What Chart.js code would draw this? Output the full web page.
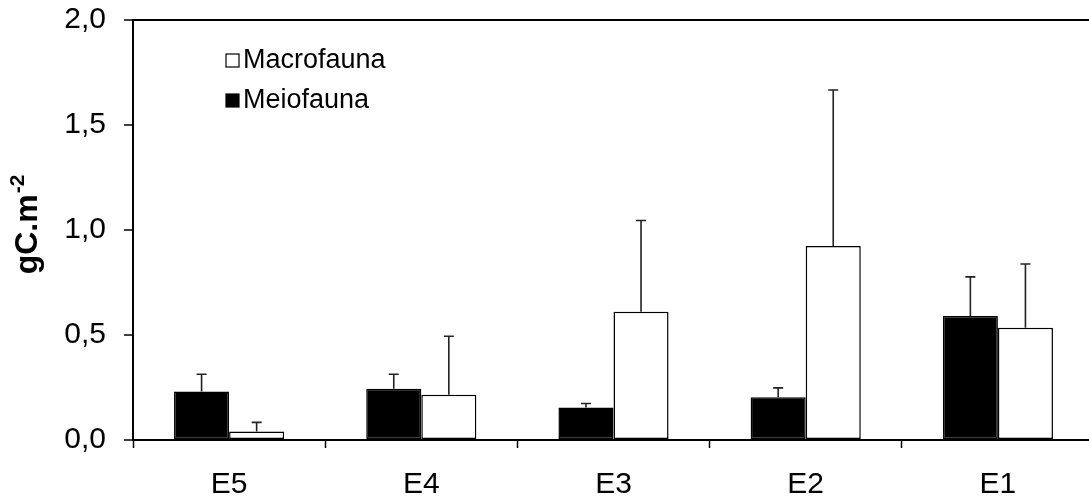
<!DOCTYPE html>
<html>
<head>
<meta charset="utf-8">
<script src="https://cdn.jsdelivr.net/npm/chart.js@4"></script>
<style>
  html, body { margin: 0; padding: 0; background: #fff; overflow: hidden; }
  #wrap { width: 1094px; height: 520px; margin-top: -16px; }
</style>
</head>
<body>
<div id="wrap"><canvas id="chart"></canvas></div>
<script>
const categories = ['E5', 'E4', 'E3', 'E2', 'E1'];
const meioValues = [0.231, 0.244, 0.155, 0.204, 0.590];
const meioErrors = [0.082, 0.069, 0.019, 0.044, 0.187];
const macroValues = [0.041, 0.215, 0.611, 0.924, 0.535];
const macroErrors = [0.043, 0.279, 0.434, 0.743, 0.303];
const yTickLabels = ['0,0', '0,5', '1,0', '1,5', '2,0'];

const FONT = 'Liberation Sans, Arial, Helvetica, sans-serif';

// upward error whiskers with a small cap
const errorBars = {
    id: 'errorBars',
    afterDatasetsDraw(chart) {
        const ctx = chart.ctx;
        const y = chart.scales.y;
        ctx.save();
        ctx.strokeStyle = '#222';
        ctx.lineWidth = 1.6;
        chart.data.datasets.forEach(function(ds, i) {
            const meta = chart.getDatasetMeta(i);
            meta.data.forEach(function(bar, j) {
                const top = y.getPixelForValue(ds.data[j]);
                const end = y.getPixelForValue(ds.data[j] + ds.errors[j]);
                ctx.beginPath();
                ctx.moveTo(bar.x, top);
                ctx.lineTo(bar.x, end);
                ctx.moveTo(bar.x - 5, end);
                ctx.lineTo(bar.x + 5, end);
                ctx.stroke();
            });
        });
        ctx.restore();
    }
};

// legend inside the plot, last dataset listed first
const innerLegend = {
    id: 'innerLegend',
    afterDraw(chart) {
        const ctx = chart.ctx;
        const area = chart.chartArea;
        const items = chart.data.datasets.slice().reverse();
        ctx.save();
        ctx.font = '27px ' + FONT;
        ctx.textBaseline = 'middle';
        items.forEach(function(ds, k) {
            const cy = area.top + 40 + k * 40;
            ctx.fillStyle = ds.backgroundColor;
            ctx.fillRect(226, cy - 6, 13, 13);
            ctx.strokeStyle = '#000';
            ctx.lineWidth = 1.2;
            ctx.strokeRect(226, cy - 6, 13, 13);
            ctx.fillStyle = '#000';
            ctx.fillText(ds.label, 243, cy + 1);
        });
        ctx.restore();
    }
};

// rotated y title with a superscript exponent
const yTitle = {
    id: 'yTitle',
    afterDraw(chart) {
        const ctx = chart.ctx;
        const area = chart.chartArea;
        ctx.save();
        ctx.translate(37, (area.top + area.bottom) / 2 - 5);
        ctx.rotate(-Math.PI / 2);
        ctx.fillStyle = '#000';
        ctx.textBaseline = 'alphabetic';
        ctx.font = 'bold 32px ' + FONT;
        const main = 'gC.m';
        const sup = '-2';
        const w1 = ctx.measureText(main).width;
        ctx.font = 'bold 21px ' + FONT;
        const w2 = ctx.measureText(sup).width;
        const x0 = -(w1 + w2) / 2;
        ctx.font = 'bold 32px ' + FONT;
        ctx.fillText(main, x0, 0);
        ctx.font = 'bold 21px ' + FONT;
        ctx.fillText(sup, x0 + w1 + 1, -13);
        ctx.restore();
    }
};

new Chart(document.getElementById('chart'), {
    type: 'bar',
    data: {
        labels: categories,
        datasets: [{
            label: 'Meiofauna',
            data: meioValues,
            errors: meioErrors,
            backgroundColor: '#000',
            borderColor: '#000',
            borderWidth: 1.5,
            borderSkipped: false
        }, {
            label: 'Macrofauna',
            data: macroValues,
            errors: macroErrors,
            backgroundColor: '#fff',
            borderColor: '#000',
            borderWidth: 1.5,
            borderSkipped: false
        }]
    },
    options: {
        responsive: true,
        maintainAspectRatio: false,
        animation: false,
        layout: { padding: { top: 3, right: 0, left: 0, bottom: 0 } },
        categoryPercentage: 0.573,
        barPercentage: 1.0,
        plugins: {
            legend: { display: false },
            tooltip: { enabled: false }
        },
        scales: {
            x: {
                offset: true,
                afterFit: function(scale) { scale.height = 64; },
                grid: {
                    offset: true,
                    color: 'rgba(0,0,0,0)',
                    tickColor: '#000',
                    tickLength: 8,
                    tickWidth: 1.5
                },
                border: { color: '#000', width: 2 },
                ticks: {
                    color: '#000',
                    padding: 19,
                    font: { family: FONT, size: 30 }
                }
            },
            y: {
                min: 0,
                max: 2,
                afterFit: function(scale) { scale.width = 133; },
                grid: {
                    color: function(c) { return c.tick && c.tick.value === 2 ? '#000' : 'rgba(0,0,0,0)'; },
                    lineWidth: 2,
                    tickColor: '#000',
                    tickLength: 9,
                    tickWidth: 1.5
                },
                border: { color: '#000', width: 2 },
                ticks: {
                    stepSize: 0.5,
                    color: '#000',
                    padding: 18,
                    font: { family: FONT, size: 30 },
                    callback: function(v, i) { return yTickLabels[i]; }
                }
            }
        }
    },
    plugins: [errorBars, innerLegend, yTitle]
});
</script>
</body>
</html>
